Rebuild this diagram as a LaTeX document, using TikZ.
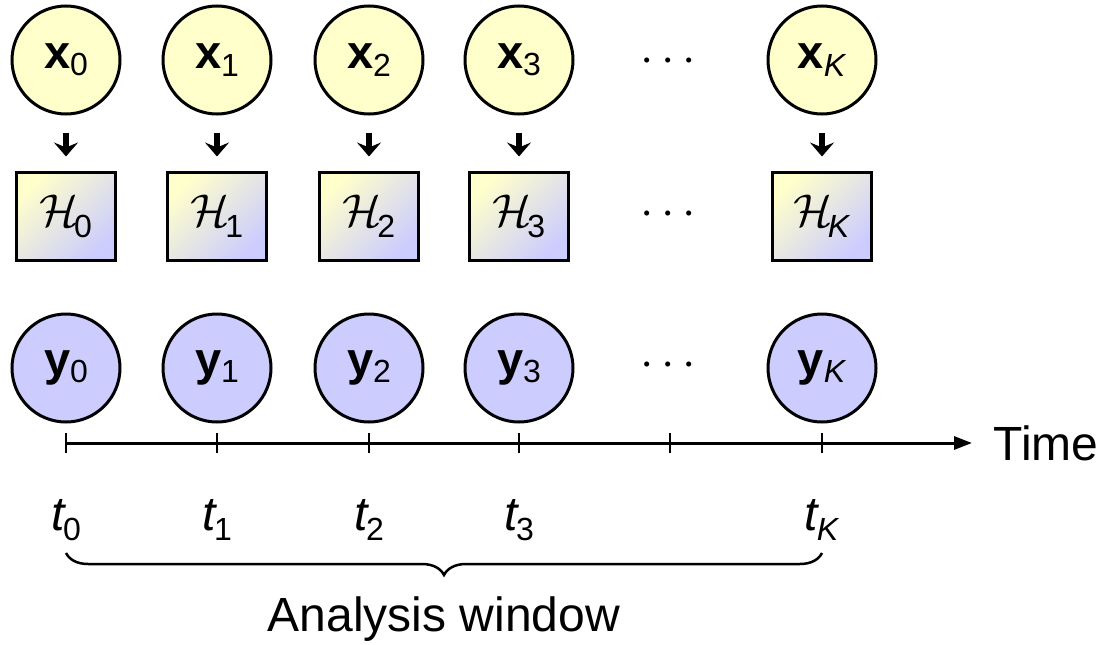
\documentclass[tikz,border=0pt]{standalone}
\usepackage{graphicx}
\usepackage{fontspec}
\setmainfont{Liberation Sans}
\usetikzlibrary{arrows.meta,decorations.pathreplacing}
\definecolor{ylw}{RGB}{255,255,204}
\definecolor{lav}{RGB}{204,204,255}
\newcommand\mylbl[2]{\textbf{#1}\raisebox{-0.3ex}{\fontsize{32}{32}\selectfont #2}}
\newcommand\myH[1]{\scalebox{4.6}{\normalsize$\mathcal{H}$}\kern-5pt\raisebox{-0.45ex}{\fontsize{32}{32}\selectfont #1}}
\newcommand\myt[1]{\textit{t}\kern-3pt\raisebox{-0.4ex}{\fontsize{32}{32}\selectfont #1}}
\newcommand\mydots{\scalebox{4.8}{\normalsize$\cdots$}}
\tikzset{
  xnode/.style={circle,draw,line width=3pt,fill=ylw,minimum size=108pt,inner sep=0pt,font=\fontsize{47}{47}\selectfont},
  ynode/.style={circle,draw,line width=3pt,fill=lav,minimum size=108pt,inner sep=0pt,font=\fontsize{47}{47}\selectfont},
  hnode/.style={draw,line width=3pt,top color=ylw,bottom color=lav,shading angle=45,minimum width=99pt,minimum height=88pt,inner sep=0pt,font=\fontsize{46}{46}\selectfont},
  harrow/.style={line width=6pt,-{Stealth[width=24pt,length=14pt,inset=5pt]},shorten <=17pt,shorten >=14pt},
  tlbl/.style={font=\fontsize{48}{48}\selectfont},
  dotsn/.style={inner sep=0pt},
  tickl/.style={line width=2.5pt},
}
\begin{document}
\begin{tikzpicture}[x=1pt,y=-1pt]
\useasboundingbox (0,0) rectangle (1103,645);
% top row
\node[xnode] (x0) at (66,60) {\mylbl{x}{0}};
\node[xnode] (x1) at (217,60) {\mylbl{x}{1}};
\node[xnode] (x2) at (369,60) {\mylbl{x}{2}};
\node[xnode] (x3) at (519,60) {\mylbl{x}{3}};
\node[dotsn] (dx) at (668,62) {\mydots};
\node[xnode] (xK) at (822,60) {\mylbl{x}{\textit{K}}};
% H row
\node[hnode] (H0) at (66,216) {\myH{0}};
\node[hnode] (H1) at (217,216) {\myH{1}};
\node[hnode] (H2) at (369,216) {\myH{2}};
\node[hnode] (H3) at (519,216) {\myH{3}};
\node[dotsn] (dH) at (668,215) {\mydots};
\node[hnode] (HK) at (822,216) {\myH{\textit{K}}};
\foreach \n in {0,1,2,3,K} \draw[harrow] (x\n) -- (H\n);
% y row
\node[ynode] (y0) at (66,368) {\mylbl{y}{0}};
\node[ynode] (y1) at (217,368) {\mylbl{y}{1}};
\node[ynode] (y2) at (369,368) {\mylbl{y}{2}};
\node[ynode] (y3) at (519,368) {\mylbl{y}{3}};
\node[dotsn] (dy) at (668,366) {\mydots};
\node[ynode] (yK) at (822,368) {\mylbl{y}{\textit{K}}};
% time axis
\coordinate (a0) at (66,443);
\coordinate (a1) at (217,443);
\coordinate (a2) at (369,443);
\coordinate (a3) at (519,443);
\coordinate (a4) at (670,443);
\coordinate (aK) at (822,443);
\coordinate (aend) at (972,443);
\node[tlbl,anchor=west] (time) at (990,443) {Time};
\draw[line width=3pt,-{Triangle[width=13pt,length=18pt]}] (a0) -- (aend);
\foreach \c in {a0,a1,a2,a3,a4,aK} \draw[tickl] ([yshift=-10pt]\c) -- ([yshift=10pt]\c);
% t labels
\node[tlbl] (t0) at (66,520) {\myt{0}};
\node[tlbl] (t1) at (217,520) {\myt{1}};
\node[tlbl] (t2) at (369,520) {\myt{2}};
\node[tlbl] (t3) at (519,520) {\myt{3}};
\node[tlbl] (tK) at (822,520) {\myt{\textit{K}}};
% brace
\coordinate (b0) at (66,553);
\coordinate (bK) at (822,553);
\draw[line width=2.5pt,decorate,decoration={brace,amplitude=22pt,mirror}] (b0) -- (bK);
\node[tlbl] (aw) at (444,619) {Analysis window};
\end{tikzpicture}
\end{document}
